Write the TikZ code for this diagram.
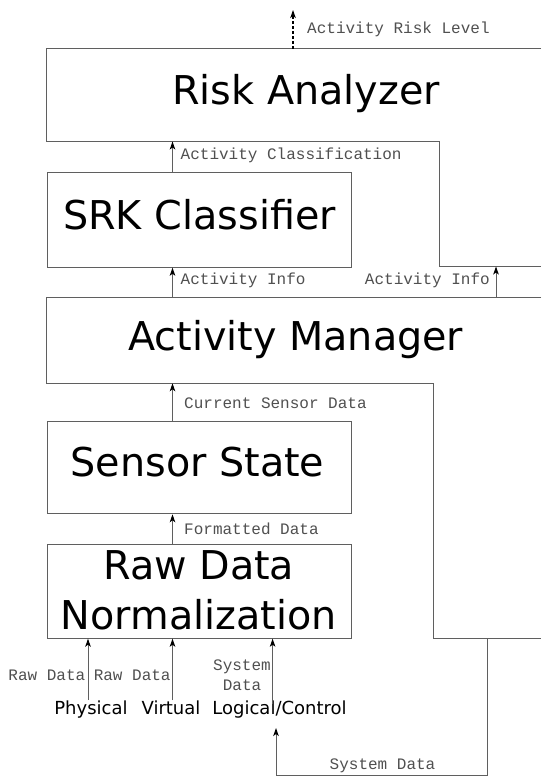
\documentclass[tikz,border=0pt]{standalone}
\usepackage{fontspec}
\setmainfont{DejaVu Sans}
\newfontfamily\monof{Liberation Mono}
\usetikzlibrary{arrows.meta}
\definecolor{linegray}{RGB}{95,95,95}
\definecolor{labgray}{RGB}{80,80,80}
\begin{document}
\begin{tikzpicture}[x=1pt,y=-1pt,
  line/.style={draw=linegray,line width=1pt},
  arr/.style={draw=linegray,line width=1pt,-{Stealth[length=8pt,width=5.5pt,inset=2pt,color=black]}},
  dasharr/.style={draw=black,line width=1.1pt,dash pattern=on 3pt off 2pt,-{Stealth[length=8pt,width=5.5pt,inset=2pt,color=black]}},
  box/.style={draw=linegray,line width=1pt,inner sep=0pt,minimum width=304.5pt,anchor=north west},
  title/.style={font=\fontsize{39.7}{50}\selectfont,inner sep=0pt,anchor=base},
  sub/.style={font=\fontsize{18}{21}\selectfont,inner sep=0pt,anchor=base},
  lab/.style={font=\monof\fontsize{16}{20}\selectfont,text=labgray,inner sep=0pt}]
\useasboundingbox (0,0) rectangle (541,776);
\fill[white] (0,0) rectangle (541,776);

% Risk Analyzer (L-shaped)
\draw[line] (541,49) -- (46.5,49) -- (46.5,141.5) -- (439,141.5) -- (439,266.5) -- (541,266.5);
\coordinate (risktop) at (293,49);
\coordinate (risksw) at (46.5,141.5);
\coordinate (riskext) at (439,266.5);
\node[title] (riskt) at (306,104) {Risk Analyzer};

% Activity Manager (L-shaped)
\draw[line] (541,297) -- (46.5,297) -- (46.5,383.3) -- (433,383.3) -- (433,638) -- (541,638);
\coordinate (amnw) at (46.5,297);
\coordinate (amsw) at (46.5,383.3);
\coordinate (amext) at (487,638);
\node[title] (amt) at (295.7,350) {Activity Manager};

% Rectangular boxes
\node[box,minimum height=94.4pt] (srk) at (46.5,172.3) {};
\node[title] (srkt) at (199.5,229) {SRK Classifier};
\node[box,minimum height=92.6pt] (sensor) at (46.5,420.7) {};
\node[title] (sensort) at (197.5,476.7) {Sensor State};
\node[box,minimum height=93.7pt] (raw) at (46.5,544) {};
\node[title] (rawt1) at (198.8,579) {Raw Data};
\node[title] (rawt2) at (198.8,629.3) {Normalization};

% x positions of vertical connectors
\coordinate (ax) at (172.5,0);
\coordinate (rx) at (496,0);
\coordinate (px) at (88,0);
\coordinate (lx) at (272.6,0);

% Output
\coordinate (riskout) at (293,10);
\draw[dasharr] (risktop) -- (riskout);
\node[lab,anchor=west] (l1) at (307,29) {Activity Risk Level};

% SRK -> Risk
\draw[arr] (srk.north -| ax) -- (risksw -| ax);
\node[lab,anchor=west] (l2) at (180.5,155.5) {Activity Classification};

% AM -> SRK
\draw[arr] (amnw -| ax) -- (srk.south -| ax);
\node[lab,anchor=west] (l3) at (180.5,280) {Activity Info};

% AM -> Risk extension
\draw[arr] (amnw -| rx) -- (riskext -| rx);
\node[lab,anchor=east] (l4) at (490,280) {Activity Info};

% Sensor -> AM
\draw[arr] (sensor.north -| ax) -- (amsw -| ax);
\node[lab,anchor=west] (l5) at (184,403) {Current Sensor Data};

% Raw -> Sensor
\draw[arr] (raw.north -| ax) -- (sensor.south -| ax);
\node[lab,anchor=west] (l6) at (184,529) {Formatted Data};

% Inputs
\node[sub] (phys) at (91,714) {Physical};
\node[sub] (virt) at (171,714) {Virtual};
\node[sub] (logic) at (279.5,714) {Logical/Control};

\coordinate (physin) at (88,700);
\coordinate (virtin) at (172.5,700);
\coordinate (logicin) at (272.6,704);
\draw[arr] (physin) -- (raw.south -| px);
\draw[arr] (virtin) -- (raw.south -| ax);
\draw[arr] (logicin) -- (raw.south -| lx);
\node[lab,anchor=east] (l7) at (85.5,675) {Raw Data};
\node[lab,anchor=east] (l8) at (170.8,675) {Raw Data};
\node[lab,align=center] (l9) at (242,675) {System\\Data};

% System data loop from AM to Logical/Control
\coordinate (sysin) at (276,728);
\draw[arr] (amext) -- (487,775) -- (276,775) -- (sysin);
\node[lab,anchor=west] (l10) at (329.5,766) {System Data};
\end{tikzpicture}
\end{document}
